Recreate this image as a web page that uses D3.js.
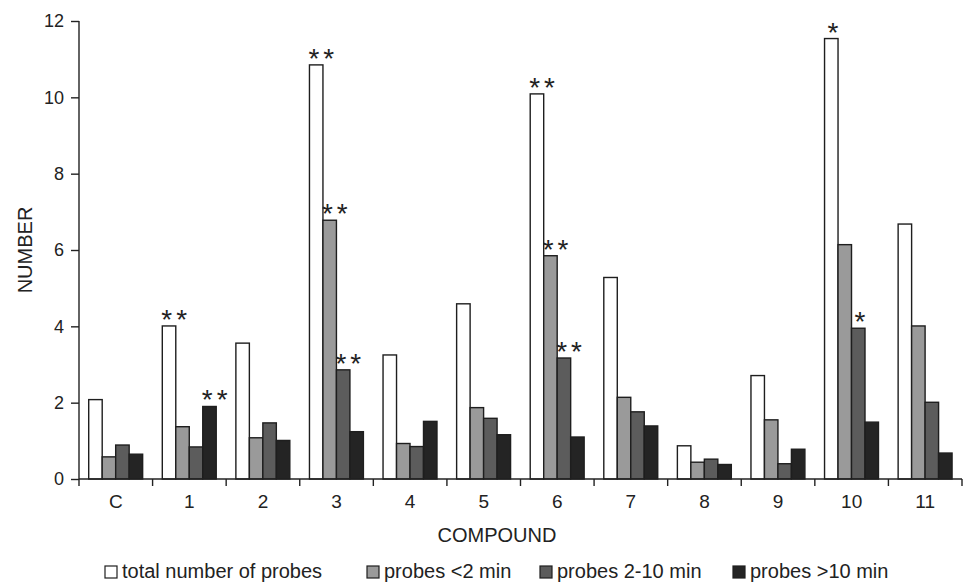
<!DOCTYPE html>
<html>
<head>
<meta charset="utf-8">
<script src="https://cdn.jsdelivr.net/npm/d3@7"></script>
<style>
body{margin:0;background:#fff;}
text{font-family:"Liberation Sans",Arial,sans-serif;fill:#222;}
</style>
</head>
<body>
<div id="chart-area"></div>
<script>
let compounds=["C","1","2","3","4","5","6","7","8","9","10","11"];
let seriesNames=["total number of probes","probes <2 min","probes 2-10 min","probes >10 min"];
let total=[2.08,4.01,3.56,10.85,3.25,4.59,10.09,5.28,0.87,2.71,11.54,6.68];
let under2=[0.58,1.37,1.08,6.78,0.93,1.87,5.85,2.14,0.44,1.55,6.14,4.01];
let mid2to10=[0.89,0.84,1.47,2.86,0.85,1.59,3.17,1.76,0.52,0.40,3.95,2.01];
let over10=[0.65,1.90,1.01,1.24,1.51,1.16,1.10,1.39,0.38,0.78,1.49,0.68];
let yTicks=[0,2,4,6,8,10,12];
// significance marks: [compound, series index, label]
let marks=[["1",0,"**"],["1",3,"**"],["3",0,"**"],["3",1,"**"],["3",2,"**"],
	["6",0,"**"],["6",1,"**"],["6",2,"**"],["10",0,"*"],["10",2,"*"]];

let colors=["#ffffff","#9a9a9a","#5c5c5c","#242424"];
let allSeries=[total,under2,mid2to10,over10];

let fontFam='"Liberation Sans",Arial,sans-serif';

let margin={top:21,right:4,left:79,bottom:106};
let width=966-margin.left-margin.right;
let height=585-margin.top-margin.bottom;

let svg=d3.select("#chart-area").append('svg')
	.attr('width',966)
	.attr('height',585);

let g=svg.append('g')
	.attr("transform","translate("+margin.left+","+margin.top+")");

//---------SCALES--------------
let x0=d3.scaleBand()
	.domain(compounds)
	.range([0,width]);

let x1=d3.scaleBand()
	.domain(d3.range(4))
	.range([x0.bandwidth()*0.132,x0.bandwidth()*0.865]);

let y=d3.scaleLinear()
	.domain([0,12])
	.range([height,0]);

//---------BARS----------------
let groups=g.selectAll('.group').data(compounds).enter().append('g')
	.attr('class','group')
	.attr('transform',d=>"translate("+x0(d)+",0)");

groups.selectAll('rect')
	.data((c,i)=>allSeries.map((s,k)=>({k:k,v:s[i]})))
	.enter().append('rect')
	.attr('x',d=>x1(d.k))
	.attr('y',d=>y(d.v))
	.attr('width',x1.bandwidth())
	.attr('height',d=>height-y(d.v))
	.attr('fill',d=>colors[d.k])
	.attr('stroke','#1e1e1e')
	.attr('stroke-width',1.4);

// asterisks sit just above the bar, starting near its left edge
g.selectAll('.mark').data(marks).enter().append('text')
	.attr('class','mark')
	.attr('x',d=>x0(d[0])+x1(d[1])+(d[2].length>1?-1:3))
	.attr('y',d=>y(allSeries[d[1]][compounds.indexOf(d[0])])+3)
	.attr('font-size','28px')
	.attr('letter-spacing','4px')
	.text(d=>d[2]);

//-------AXES------------------
let yAxis=d3.axisLeft(y)
	.tickValues(yTicks)
	.tickSize(8)
	.tickPadding(7);

let yAxisGroup=g.append('g').call(yAxis);
yAxisGroup.select('.domain').attr('stroke','#222').attr('stroke-width',1.4).attr('d',"M0,0V"+height);
yAxisGroup.selectAll('line').attr('stroke','#222').attr('stroke-width',1.4);
yAxisGroup.selectAll('text').attr('font-size','18px').attr('font-family',fontFam).attr('fill','#222');

let xAxis=d3.axisBottom(x0)
	.tickSize(0)
	.tickPadding(16);

let xAxisGroup=g.append('g')
	.attr('transform',"translate(0,"+height+")")
	.call(xAxis);
xAxisGroup.select('.domain').attr('stroke','#222').attr('stroke-width',1.4).attr('d',"M0,0H"+width);
xAxisGroup.selectAll('text').attr('font-size','19px').attr('font-family',fontFam).attr('fill','#222');

// category boundary ticks
let bounds=compounds.map(c=>x0(c)).concat([width]);
xAxisGroup.selectAll('.bound').data(bounds).enter().append('line')
	.attr('class','bound')
	.attr('x1',d=>d).attr('x2',d=>d)
	.attr('y1',0).attr('y2',7)
	.attr('stroke','#222').attr('stroke-width',1.4);

//------LABELS----------------
svg.append('text')
	.attr('x',497)
	.attr('y',542)
	.attr('text-anchor','middle')
	.attr('font-size','20px')
	.text('COMPOUND');

g.append('text')
	.attr('transform','rotate(-90)')
	.attr('x',-height/2)
	.attr('y',-47)
	.attr('text-anchor','middle')
	.attr('font-size','20px')
	.text('NUMBER');

//--------LEGEND--------------
let legendX=[105,367,540,733];
let legend=svg.append('g')
	.attr('transform',"translate(0,566)");

seriesNames.forEach(function(name,i){
	let row=legend.append('g')
		.attr('transform',"translate("+legendX[i]+",0)");
	row.append('rect')
		.attr('width',12).attr('height',12)
		.attr('fill',colors[i])
		.attr('stroke','#1e1e1e')
		.attr('stroke-width',1.2);
	row.append('text')
		.attr('x',17)
		.attr('y',12)
		.attr('font-size','20px')
		.text(name);
});
</script>
</body>
</html>
